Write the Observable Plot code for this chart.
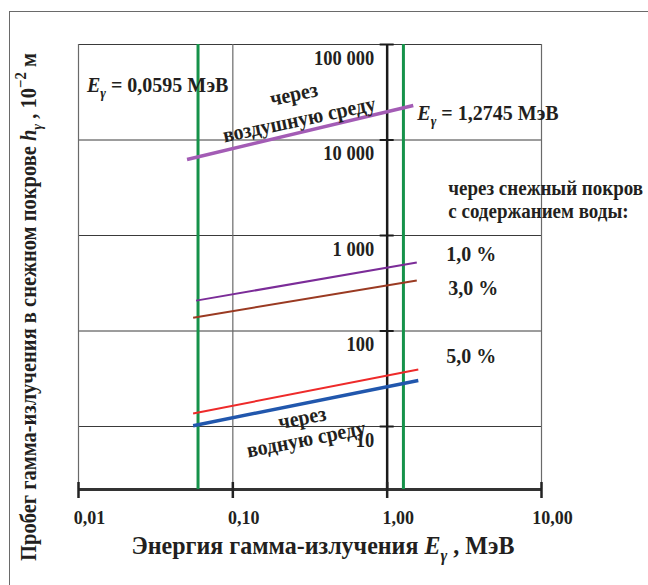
<!DOCTYPE html>
<html><head><meta charset="utf-8">
<script src="https://cdn.jsdelivr.net/npm/d3@7"></script>
<script src="https://cdn.jsdelivr.net/npm/@observablehq/plot@0.6"></script>
<style>
body{margin:0;background:#fff;}
#wrap{position:relative;width:648px;height:585px;overflow:hidden;background:#fff;}
#frame{position:absolute;left:9px;top:11px;width:700px;height:700px;border-left:1.5px solid #6a6a6a;border-top:1.5px solid #6a6a6a;}
#chart{position:absolute;left:0;top:0;}
</style></head><body>
<div id="wrap"><div id="frame"></div><div id="chart"></div></div>
<script>
// ---- data ----
const series = ["через воздушную среду", "1,0 %", "3,0 %", "5,0 %", "через водную среду"];
const energyStart = [0.0505, 0.0578, 0.0553, 0.0553, 0.0553];
const energyEnd = [1.476, 1.556, 1.556, 1.591, 1.591];
const rangeStart = [6250, 208, 138, 13.7, 10.2];
const rangeEnd = [22970, 521, 338, 39.5, 30.3];
const markerEnergies = [0.0595, 1.2745];
const xTicks = [0.01, 0.1, 1, 10];
const xTickLabels = ["0,01", "0,10", "1,00", "10,00"];
const yTicks = [10, 100, 1000, 10000, 100000];
const yTickLabels = ["10", "100", "1 000", "10 000", "100 000"];
const xDomain = [0.01, 10];
const yDomain = [2.19, 100000];
const xTitle = "Энергия гамма-излучения *E*_{γ} , МэВ";
const yTitle = "Пробег гамма-излучения в снежном покрове *h*_{γ} , 10^{−2} м";

// ---- styles ----
const seriesColors = ["#a35cb5", "#7b2c98", "#9a3a22", "#ee2a2a", "#2157ad"];
const seriesWidths = [3.5, 2, 2, 2, 3.5];
const ink = "#231f20";
const font = "Liberation Serif";

const lines = series.map((s, i) => ({series: s, x1: energyStart[i], x2: energyEnd[i], y1: rangeStart[i], y2: rangeEnd[i]}));
const yMin = yDomain[0];

const txt = (data, opts) => Plot.text(data, {fill: ink, fontFamily: font, fontWeight: "bold", ...opts});

const chart = Plot.plot({
  width: 648,
  height: 585,
  marginLeft: 78,
  marginRight: 107,
  marginTop: 44,
  marginBottom: 96,
  style: {fontFamily: font, background: "transparent", overflow: "visible"},
  x: {type: "log", domain: xDomain, axis: null},
  y: {type: "log", domain: yDomain, axis: null},
  marks: [
    // grid
    Plot.ruleY(yTicks, {y: d => d, stroke: "#3a3a3a", strokeWidth: 1}),
    Plot.ruleX([xTicks[0], xTicks[1], xTicks[3]], {x: d => d, stroke: "#6a6a6a", strokeWidth: 1.2}),
    Plot.ruleX([xTicks[2]], {x: d => d, stroke: "#1a1a1a", strokeWidth: 2.5}),
    // y ticks on the vertical axis at 1 MeV
    Plot.ruleY(yTicks, {y: d => d, x1: () => 1, x2: () => 1, insetLeft: -7, insetRight: -7, stroke: "#1a1a1a", strokeWidth: 2}),
    // bottom axis
    Plot.ruleY([yMin], {y: d => d, stroke: "#333", strokeWidth: 3}),
    Plot.ruleX(xTicks, {x: d => d, y1: () => yMin, y2: () => yMin, insetTop: -7, insetBottom: -9, stroke: "#222", strokeWidth: 2.5}),
    // energy markers
    Plot.ruleX(markerEnergies, {x: d => d, stroke: "#16924a", strokeWidth: 3}),
    // series lines
    ...lines.map((d, i) => Plot.link([d], {x1: "x1", y1: "y1", x2: "x2", y2: "y2", stroke: seriesColors[i], strokeWidth: seriesWidths[i]})),
    // tick labels
    txt(yTicks, {x: () => 1, y: d => d, text: (d, i) => yTickLabels[i], textAnchor: "end", dx: -13, dy: 14, fontSize: 18.5}),
    txt(xTicks, {x: d => d, y: () => yMin, text: (d, i) => xTickLabels[i], dx: 11, dy: 28, fontSize: 18}),
    // axis titles
    txt([xTitle], {frameAnchor: "bottom", textAnchor: "middle", lineAnchor: "middle", text: d => d, dx: 13, dy: 56, fontSize: 24}),
    txt([yTitle], {frameAnchor: "left", textAnchor: "middle", lineAnchor: "middle", text: d => d, rotate: -90, dx: -50, dy: 40, fontSize: 20.5}),
    // annotations
    txt(["*E*_{γ} = 0,0595 МэВ"], {x: () => 0.01135, y: () => 37250, text: d => d, textAnchor: "start", fontSize: 20}),
    txt(["*E*_{γ} = 1,2745 МэВ"], {x: () => 1.568, y: () => 18950, text: d => d, textAnchor: "start", fontSize: 20}),
    txt(["через\nвоздушную среду"], {x: () => 0.2573, y: () => 22960, text: d => d, rotate: -12, lineHeight: 1.2, fontSize: 20}),
    txt(["через\nводную среду"], {x: () => 0.290, y: () => 9.53, text: d => d, rotate: -11, lineHeight: 1.0, fontSize: 20}),
    txt(["через снежный покров\nс содержанием воды:"], {x: () => 2.49, y: () => 2410, text: d => d, textAnchor: "start", lineHeight: 1.1, fontSize: 19}),
    txt([series[1]], {x: () => 3.51, y: () => 632, text: d => d, fontSize: 20}),
    txt([series[2]], {x: () => 3.61, y: () => 279, text: d => d, fontSize: 20}),
    txt([series[3]], {x: () => 3.51, y: () => 55.3, text: d => d, fontSize: 20})
  ]
});

document.getElementById("chart").appendChild(chart);

// rich text: *italic*, _{subscript}, ^{superscript}
const NS = "http://www.w3.org/2000/svg";
chart.querySelectorAll("text").forEach(el => {
  if (el.querySelector("tspan")) return;
  const s = el.textContent;
  if (!/\*|_\{|\^\{/.test(s)) return;
  const fs = parseFloat(getComputedStyle(el).fontSize) || 17;
  while (el.firstChild) el.removeChild(el.firstChild);
  const re = /\*([^*]+)\*|_\{([^}]+)\}|\^\{([^}]+)\}|([^*_^]+)/g;
  let m, off = 0;
  while ((m = re.exec(s))) {
    const t = document.createElementNS(NS, "tspan");
    let target = 0, str;
    if (m[1]) { str = m[1]; t.setAttribute("font-style", "italic"); }
    else if (m[2]) { str = m[2]; target = 0.28 * fs; t.setAttribute("font-style", "italic"); t.setAttribute("font-size", (0.68 * fs) + "px"); }
    else if (m[3]) { str = m[3]; target = -0.42 * fs; t.setAttribute("font-size", (0.72 * fs) + "px"); }
    else { str = m[4]; }
    if (target - off !== 0) t.setAttribute("dy", target - off);
    off = target;
    t.textContent = str;
    el.appendChild(t);
  }
});
// slightly taller glyphs, like the condensed original typeface
chart.querySelectorAll("text").forEach(el => {
  const tr = el.getAttribute("transform");
  if (tr) el.setAttribute("transform", tr + " scale(1,1.08)");
});
</script></body></html>
